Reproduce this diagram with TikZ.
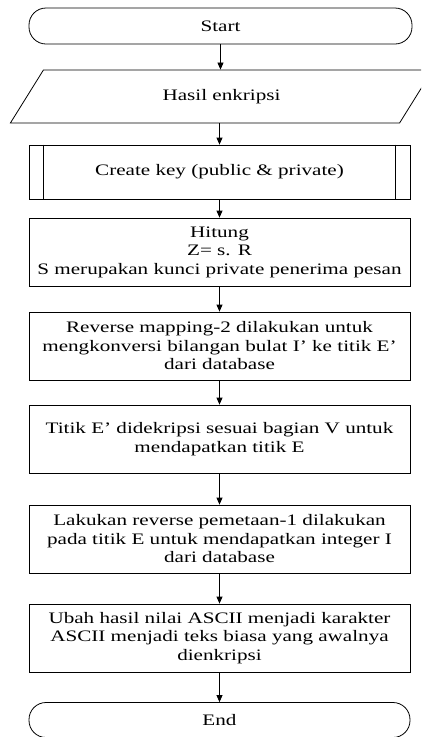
\documentclass[tikz,border=0pt]{standalone}
\usepackage{fontspec}
\setmainfont[FakeStretch=1.32]{Liberation Serif}
\usetikzlibrary{shapes.geometric,arrows.meta}
\begin{document}
\begin{tikzpicture}[x=1pt,y=-1pt,
  every node/.style={font=\fontsize{16}{18.5}\selectfont, align=center},
  term/.style={draw, line width=0.8pt, rounded corners=17pt, minimum width=383pt, minimum height=36pt, inner sep=0pt},
  proc/.style={draw, line width=0.8pt, minimum width=381pt, minimum height=68pt, inner sep=0pt},
  io/.style={draw, line width=0.8pt, trapezium, trapezium left angle=53, trapezium right angle=127, trapezium stretches=true, minimum width=423pt, minimum height=53pt, inner sep=0pt},
  arr/.style={line width=0.8pt, -{Triangle[length=7pt,width=6pt]}}]
\clip (0,0) rectangle (421,737);
\node[term] (start) at (220.5,26) {Start};
\node[io] (hasil) at (221.5,96.5) {Hasil enkripsi};
\node[proc, minimum height=54pt] (create) at (219.5,172) {Create key (public \& private)};
\draw[line width=0.8pt] ([xshift=15pt]create.north west) -- ([xshift=15pt]create.south west);
\draw[line width=0.8pt] ([xshift=-15pt]create.north east) -- ([xshift=-15pt]create.south east);
\node[proc] (hitung) at (219.5,252) {Hitung\\Z= s. R\\S merupakan kunci private penerima pesan};
\node[proc] (rev) at (219.5,346) {Reverse mapping-2 dilakukan untuk\\mengkonversi bilangan bulat I’ ke titik E’\\dari database};
\node[proc] (titik) at (219.5,439) {Titik E’ didekripsi sesuai bagian V untuk\\mendapatkan titik E};
\node[proc] (lak) at (219.5,539) {Lakukan reverse pemetaan-1 dilakukan\\pada titik E untuk mendapatkan integer I\\dari database};
\node[proc] (ubah) at (219.5,638) {Ubah hasil nilai ASCII menjadi karakter\\ASCII menjadi teks biasa yang awalnya\\dienkripsi};
\node[term, minimum width=381pt, minimum height=35pt] (end) at (219.5,720) {End};
\draw[arr] (start.south) -- (start.south |- hasil.north);
\draw[arr] (create.north |- hasil.south) -- (create.north);
\draw[arr] (create.south) -- (hitung.north);
\draw[arr] (hitung.south) -- (rev.north);
\draw[arr] (rev.south) -- (titik.north);
\draw[arr] (titik.south) -- (lak.north);
\draw[arr] (lak.south) -- (ubah.north);
\draw[arr] (ubah.south) -- (end.north);
\end{tikzpicture}
\end{document}
